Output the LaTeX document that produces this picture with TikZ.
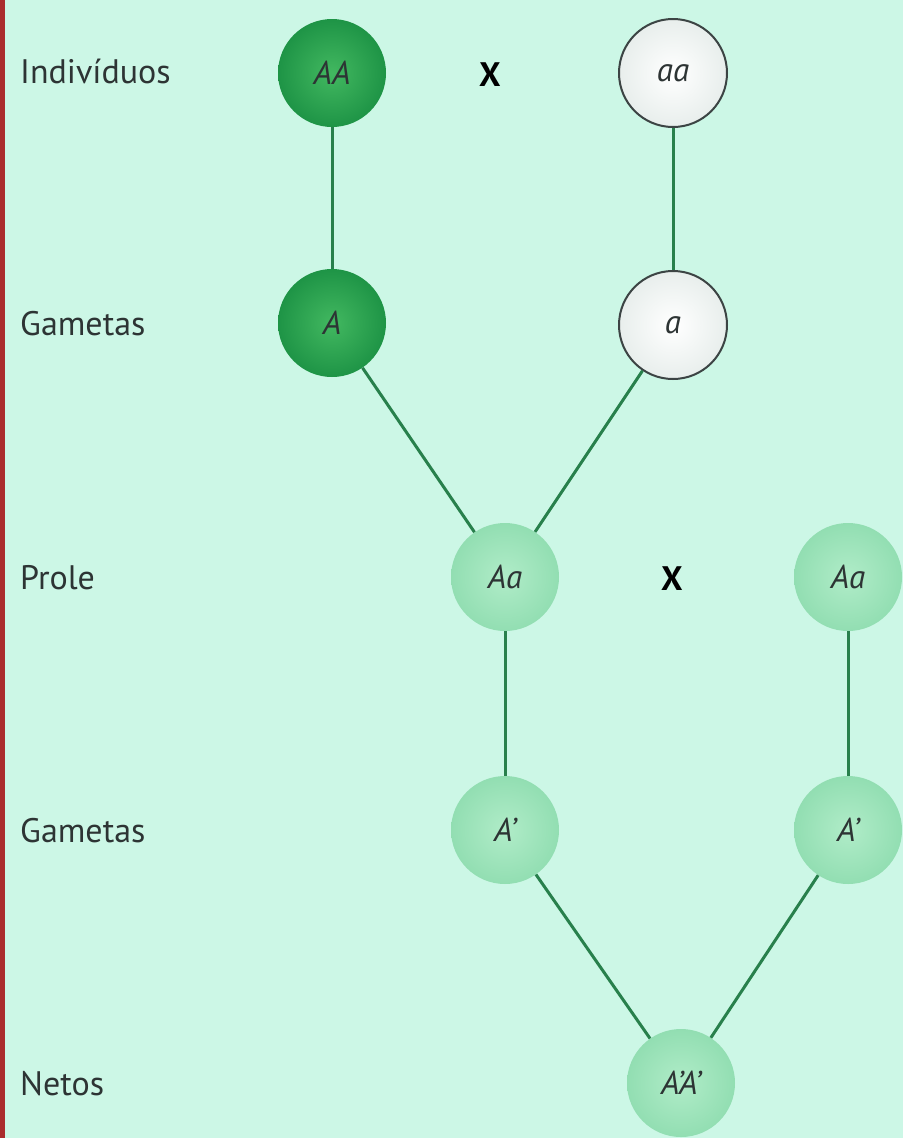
\documentclass[tikz,border=0pt]{standalone}
\usepackage{fontspec}
\setmainfont{PT Sans}
\definecolor{paper}{RGB}{204,247,230}
\definecolor{edgered}{RGB}{170,45,45}
\definecolor{inkgrey}{RGB}{45,52,52}
\definecolor{domin}{RGB}{66,184,96}
\definecolor{domout}{RGB}{30,148,70}
\definecolor{hetin}{RGB}{176,236,200}
\definecolor{hetout}{RGB}{146,222,178}
\definecolor{recout}{RGB}{232,238,236}
\definecolor{recrim}{RGB}{60,68,68}
\definecolor{linkgreen}{RGB}{40,128,76}
\tikzset{
  allele/.style={circle, minimum size=108pt, inner sep=0pt,
    font=\fontsize{33}{36}\selectfont\itshape, text=inkgrey},
  dom/.style={allele, shade, shading=radial, inner color=domin, outer color=domout},
  het/.style={allele, shade, shading=radial, inner color=hetin, outer color=hetout},
  rec/.style={allele, shade, shading=radial, inner color=white, outer color=recout,
    draw=recrim, line width=2pt},
  cross/.style={font=\fontsize{34}{36}\selectfont\bfseries, text=black, inner sep=0pt},
  rowlabel/.style={anchor=base west, inner sep=0pt, text=inkgrey,
    font=\fontsize{34}{38}\selectfont},
  link/.style={draw=linkgreen, line width=3pt}
}
\begin{document}
\begin{tikzpicture}[x=1pt, y=-1pt]
  % page and left margin rule
  \fill[paper] (0,0) rectangle (903,1138);
  \useasboundingbox (0,0) rectangle (903,1138);
  \fill[edgered] (0,0) rectangle (5,1138);

  % row labels
  \node[rowlabel] (lab1) at (20,83)   {Indivíduos};
  \node[rowlabel] (lab2) at (20,335)  {Gametas};
  \node[rowlabel] (lab3) at (20,589)  {Prole};
  \node[rowlabel] (lab4) at (20,842)  {Gametas};
  \node[rowlabel] (lab5) at (20,1095) {Netos};

  % parental cross
  \node[dom]   (AA) at (332,73)  {AA};
  \node[cross] (x1) at (490,75)  {X};
  \node[rec]   (aa) at (673,73)  {aa};
  \node[dom]   (A)  at (332,323) {A};
  \node[rec]   (a)  at (673,325) {a};

  % first generation cross
  \node[het]   (Aa1) at (505,577) {Aa};
  \node[cross] (x2)  at (672,579) {X};
  \node[het]   (Aa2) at (848,577) {Aa};
  \node[het]   (Ap1) at (505,830) {A'};
  \node[het]   (Ap2) at (848,830) {A'};

  % second generation
  \node[het]   (ApAp) at (681,1083) {A'A'};

  % lineage connectors
  \draw[link] (AA) -- (A);
  \draw[link] (aa) -- (a);
  \draw[link] (A) -- (Aa1);
  \draw[link] (a) -- (Aa1);
  \draw[link] (Aa1) -- (Ap1);
  \draw[link] (Aa2) -- (Ap2);
  \draw[link] (Ap1) -- (ApAp);
  \draw[link] (Ap2) -- (ApAp);
\end{tikzpicture}
\end{document}
